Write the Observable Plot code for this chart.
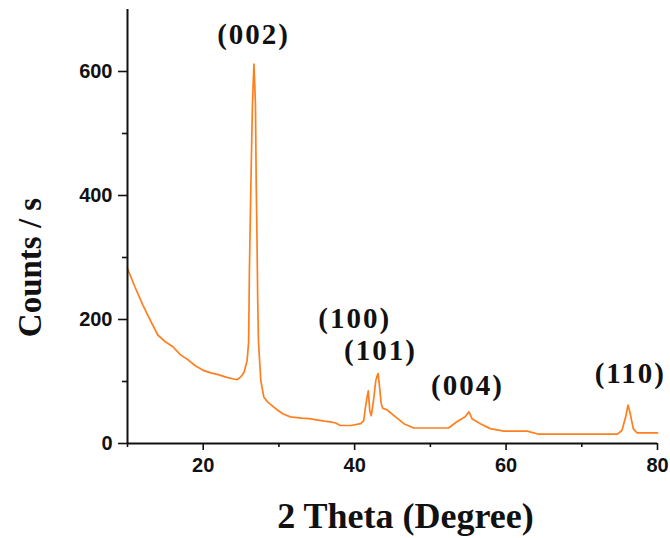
<!DOCTYPE html>
<html>
<head>
<meta charset="utf-8">
<script src="https://cdn.jsdelivr.net/npm/d3@7"></script>
<script src="https://cdn.jsdelivr.net/npm/@observablehq/plot@0.6"></script>
<style>
  html, body { margin: 0; padding: 0; background: #fff; }
</style>
</head>
<body>
<div id="chart"></div>
<script>
// 2θ (degree) sample positions and measured counts/s
const theta = [10, 11, 12, 13, 14, 15, 16, 17, 18, 19, 20, 21, 22, 23, 24, 24.5, 25, 25.4, 25.8, 26.0,
  26.1, 26.3, 26.5, 26.6, 26.7, 26.8, 26.9, 27.0, 27.1, 27.2, 27.3, 27.6, 28.0, 28.5, 29.0, 29.8,
  30.5, 31.5, 33, 34, 35, 36, 36.8, 37.5, 38.1, 39.5, 40.8, 41.2, 41.4, 41.6, 41.8, 42.0, 42.2,
  42.5, 42.8, 43.0, 43.1, 43.3, 43.5, 43.7, 44.3, 45.2, 46.5, 47.8, 50, 52.4, 53.5, 54.6, 55.1,
  55.5, 56.6, 57.9, 59.7, 62.8, 64.3, 70, 74.7, 75.3, 75.8, 76.1, 76.4, 76.8, 77.3, 80];
const counts = [282, 252, 224, 199, 175, 164, 156, 143, 135, 125, 118, 114, 111, 107, 104, 103, 108, 115, 134, 164,
  277, 420, 545, 580, 612, 580, 547, 420, 333, 230, 164, 102, 75, 67, 62, 54,
  48, 43, 41, 40, 38, 36, 35, 33, 29, 29, 32, 37, 56, 72, 85, 52, 45,
  70, 102, 110, 113, 90, 65, 57, 54, 45, 32, 25, 25, 25, 35, 43, 51,
  40, 32, 24, 20, 20, 15, 15, 15, 21, 43, 62, 48, 24, 17, 17];

// Peak (hkl) annotations
const peakLabels = ["(002)", "(100)", "(101)", "(004)", "(110)"];
const peakLabelTheta = [26.65, 40.0, 43.4, 54.9, 76.4];
const peakLabelCounts = [645, 186, 134, 78, 97];

// Axis ticks
const xMajor = [20, 40, 60, 80];
const xMinor = [10, 30, 50, 70];
const yMajor = [0, 200, 400, 600];
const yMinor = [100, 300, 500];

const data = theta.map((t, i) => ({theta: t, counts: counts[i]}));
const labels = peakLabels.map((l, i) => ({label: l, theta: peakLabelTheta[i], counts: peakLabelCounts[i]}));

const sans = "'Liberation Sans', Arial, sans-serif";
const serif = "'Liberation Serif', 'Times New Roman', serif";

const chart = Plot.plot({
  width: 670,
  height: 538,
  marginLeft: 127,
  marginRight: 13,
  marginTop: 9,
  marginBottom: 95,
  style: {background: "#fff", color: "#111", fontFamily: sans},
  x: {domain: [10, 80]},
  y: {domain: [0, 700]},
  marks: [
    Plot.line(data, {x: "theta", y: "counts", stroke: "#ff7f1f", strokeWidth: 1.7}),
    Plot.ruleX([10], {stroke: "#111", strokeWidth: 2}),
    Plot.ruleY([0], {stroke: "#111", strokeWidth: 2}),
    Plot.axisY({ticks: yMajor, tickSize: 9, tickPadding: 6, tickFormat: d3.format("d"), label: null,
      fontSize: 20, fontWeight: "bold", fontFamily: sans, strokeWidth: 1.6}),
    Plot.axisY({ticks: yMinor, tickSize: 5, tickFormat: () => "", label: null, strokeWidth: 1.6}),
    Plot.axisX({ticks: xMajor, tickSize: 7, tickPadding: 7, tickFormat: d3.format("d"), label: null,
      fontSize: 20, fontWeight: "bold", fontFamily: sans, strokeWidth: 1.6}),
    Plot.axisX({ticks: xMinor, tickSize: 4, tickFormat: () => "", label: null, strokeWidth: 1.6}),
    Plot.text(labels, {x: "theta", y: "counts", text: "label", lineAnchor: "bottom", textAnchor: "middle",
      fontSize: 29, fontWeight: "bold", fontFamily: serif, fill: "#111"}),
    Plot.text(["2 Theta (Degree)"], {frameAnchor: "bottom", dx: 13, dy: 84, lineAnchor: "bottom",
      textAnchor: "middle", fontSize: 36, fontWeight: "bold", fontFamily: serif, fill: "#111"}),
    Plot.text(["Counts / s"], {frameAnchor: "left", dx: -97, dy: 41, rotate: -90, lineAnchor: "middle",
      textAnchor: "middle", fontSize: 33, fontWeight: "bold", fontFamily: serif, fill: "#111"})
  ]
});

document.getElementById("chart").appendChild(chart);

// slightly widen the hkl labels like the original
d3.select(chart).selectAll("text")
  .filter(function() { return peakLabels.includes(this.textContent); })
  .style("letter-spacing", "2px");
</script>
</body>
</html>
